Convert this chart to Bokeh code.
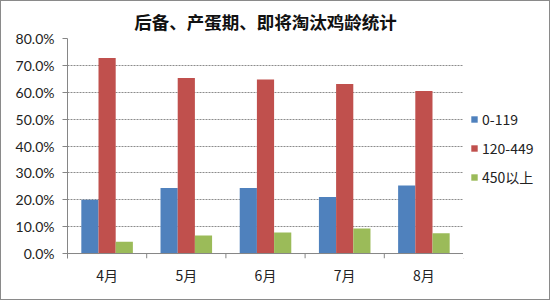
from bokeh.plotting import figure
from bokeh.layouts import row
from bokeh.models import (ColumnDataSource, FactorRange, Range1d, FixedTicker,
                          NumeralTickFormatter, Legend, LegendItem, Span)
from bokeh.transform import dodge
from bokeh.embed import file_html
from bokeh.resources import INLINE

title = "后备、产蛋期、即将淘汰鸡龄统计"
months = ["4月", "5月", "6月", "7月", "8月"]
series_names = ["0-119", "120-449", "450以上"]
s_young = [0.200, 0.244, 0.244, 0.210, 0.253]
s_laying = [0.727, 0.653, 0.647, 0.631, 0.605]
s_old = [0.044, 0.067, 0.078, 0.093, 0.075]
y_ticks = [0.0, 0.1, 0.2, 0.3, 0.4, 0.5, 0.6, 0.7, 0.8]
colors = ["#4F81BD", "#C0504D", "#9BBB59"]

W, H = 548, 298
TOP, BOTTOM, LEFT, RIGHT = 36, 41, 66, 86
Y0, Y1 = 0.0, 0.8
TICK_PX = 5
FW = W - LEFT - RIGHT
FH = H - TOP - BOTTOM
tick_len = TICK_PX * (Y1 - Y0) / (FH - TICK_PX)

src = ColumnDataSource(dict(month=months, a=s_young, b=s_laying, c=s_old,
                            lo=[Y0 - tick_len] * len(months), hi=[Y0] * len(months)))

p = figure(width=LEFT + FW, height=H, x_range=FactorRange(*months),
           y_range=Range1d(Y0 - tick_len, Y1),
           output_backend="svg", toolbar_location=None,
           min_border_left=LEFT, min_border_right=0, min_border_top=TOP, min_border_bottom=BOTTOM)
p.outline_line_color = None
p.background_fill_color = "white"
p.border_fill_color = "white"

p.title.text = title
p.title.align = "center"
p.title.text_font = "Noto Sans CJK SC"
p.title.text_font_style = "bold"
p.title.text_font_size = "17.5px"
p.title.text_color = "#111111"
p.title.standoff = 10

w = 0.217
for col, off, c in zip(["a", "b", "c"], [-w, 0, w], colors):
    p.vbar(x=dodge("month", off, range=p.x_range), top=col, width=w, source=src,
           fill_color=c, line_color=None)

# category axis: labels only
xa = p.xaxis[0]
xa.major_tick_line_color = None
xa.minor_tick_line_color = None
xa.axis_line_color = None
xa.major_label_text_font = "Noto Sans CJK SC"
xa.major_label_text_font_size = "14px"
xa.major_label_text_color = "#222222"
xa.major_label_standoff = 0

# baseline at zero and tick marks at category boundaries
p.add_layout(Span(location=Y0, dimension="width", line_color="#868686", line_width=1))
p.segment(x0=dodge("month", 0.5, range=p.x_range), x1=dodge("month", 0.5, range=p.x_range),
          y0="lo", y1="hi", source=src, line_color="#868686", line_width=1)

ya = p.yaxis[0]
ya.ticker = FixedTicker(ticks=y_ticks)
ya.formatter = NumeralTickFormatter(format="0.0%")
ya.axis_line_color = "#868686"
ya.major_tick_line_color = "#868686"
ya.major_tick_out = 5
ya.major_tick_in = 0
ya.minor_tick_line_color = None
ya.major_label_text_font = "Lato"
ya.major_label_text_font_size = "14px"
ya.major_label_text_color = "#222222"
ya.major_label_standoff = 8

p.xgrid.visible = False
p.ygrid.ticker = FixedTicker(ticks=y_ticks[1:])
p.ygrid.grid_line_color = "#8c8c8c"
p.ygrid.grid_line_dash = "2 1"
p.ygrid.grid_line_width = 1

# legend panel as a separate small figure (legend-only renderers lie outside its range)
pl = figure(width=RIGHT, height=H, x_range=(0, 1), y_range=(0, 1),
            x_axis_location=None, y_axis_location=None,
            output_backend="svg", toolbar_location=None, min_border=0)
pl.outline_line_color = None
pl.grid.visible = False
pl.background_fill_color = "white"
pl.border_fill_color = "white"
leg_renderers = [pl.vbar(x=[-5], top=[-5], bottom=[-6], width=0.1, fill_color=c, line_color=None)
                 for c in colors]

legend = Legend(items=[LegendItem(label=n, renderers=[r]) for n, r in zip(series_names, leg_renderers)],
                location="center_left", orientation="vertical")
legend.label_text_font = "Noto Sans CJK SC"
legend.label_text_font_size = "14px"
legend.label_text_color = "#222222"
legend.glyph_width = 8
legend.glyph_height = 8
legend.spacing = 9
legend.label_standoff = 4
legend.padding = 0
legend.margin = 7
legend.border_line_color = None
legend.background_fill_alpha = 0
pl.add_layout(legend, "center")

layout = row(p, pl)
layout.styles = {"border": "1px solid #8a8a8a"}

open("out.html", "w").write(file_html(layout, INLINE))
